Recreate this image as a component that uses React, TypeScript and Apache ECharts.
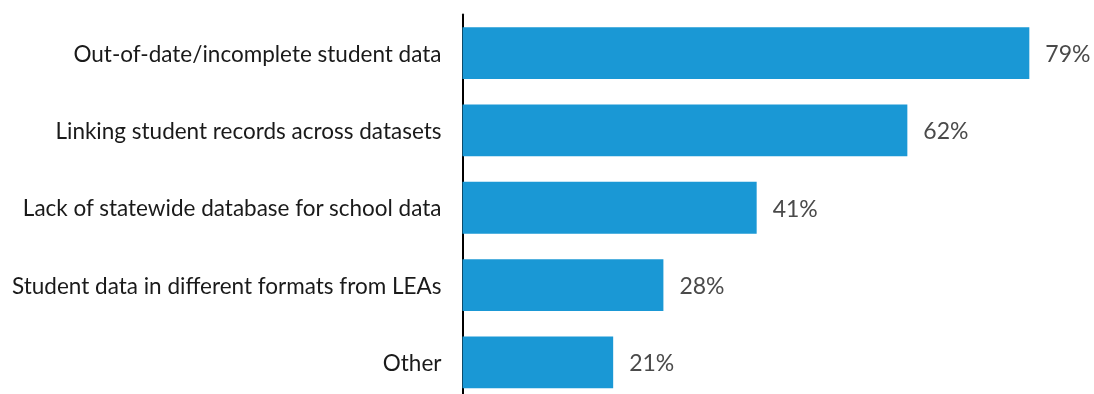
import React, { useEffect, useRef } from "react";
import * as echarts from "echarts";

const categories = [
  "Out-of-date/incomplete student data",
  "Linking student records across datasets",
  "Lack of statewide database for school data",
  "Student data in different formats from LEAs",
  "Other",
];
const values = [79, 62, 41, 28, 21];

export default function App() {
  const ref = useRef<HTMLDivElement>(null);
  useEffect(() => {
    if (!ref.current) return;
    const chart = echarts.init(ref.current, undefined, { renderer: "svg" });
    chart.setOption({
      animation: false,
      grid: { left: 462.5, top: 14.5, width: 574, height: 386.5 },
      xAxis: {
        type: "value",
        min: 0,
        max: 80,
        show: false,
      },
      yAxis: {
        type: "category",
        inverse: true,
        data: categories,
        axisLine: { show: true, lineStyle: { color: "#000", width: 2 } },
        axisTick: { show: false },
        axisLabel: {
          margin: 21,
          fontFamily: "Lato",
          fontSize: 22.5,
          color: "#1a1a1a",
        },
      },
      series: [
        {
          type: "bar",
          data: values,
          barCategoryGap: "33%",
          itemStyle: { color: "#1a98d5" },
          label: {
            show: true,
            position: "right",
            distance: 16,
            formatter: "{c}%",
            fontFamily: "Lato",
            fontSize: 23,
            color: "#4a4a4a",
          },
        },
      ],
    });
    return () => chart.dispose();
  }, []);
  return (
    <div
      style={{
        position: "fixed",
        left: 0,
        top: 0,
        width: 1094,
        height: 394,
        overflow: "hidden",
      }}
    >
      <div ref={ref} style={{ width: 1094, height: 420 }} />
    </div>
  );
}
